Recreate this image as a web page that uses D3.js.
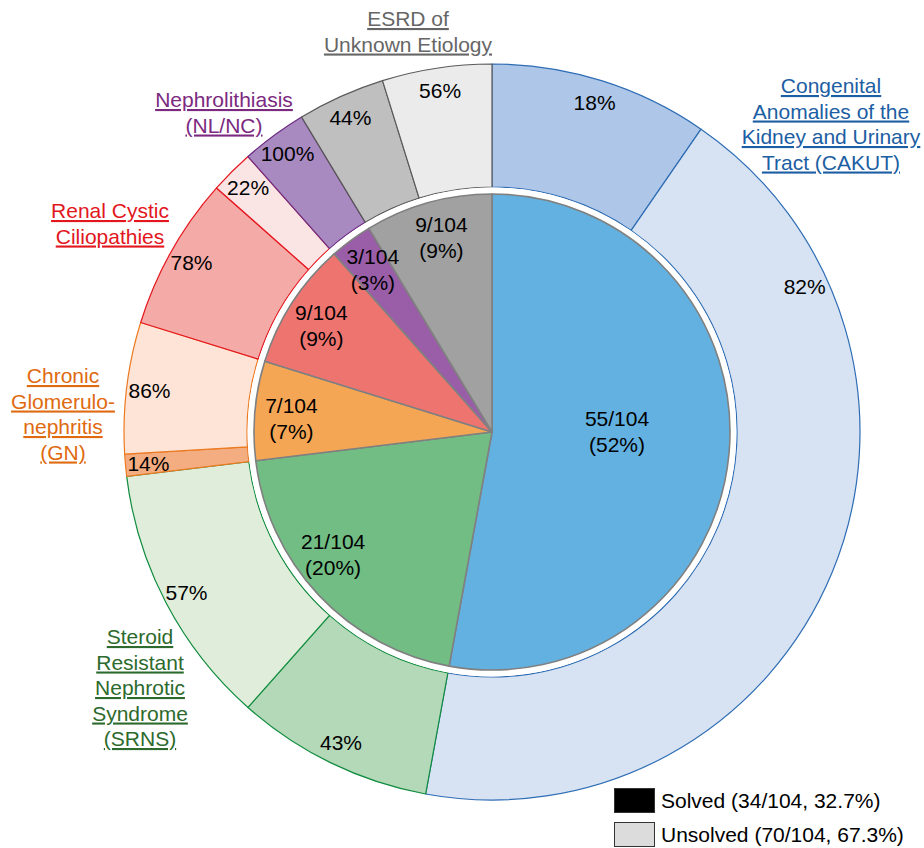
<!DOCTYPE html>
<html>
<head>
<meta charset="utf-8">
<script src="https://cdn.jsdelivr.net/npm/d3@7"></script>
<style>
  body { margin: 0; background: #fff; }
  svg text { font-family: "Liberation Sans", Arial, Helvetica, sans-serif; font-size: 21px; }
</style>
</head>
<body>
<div class="chart"></div>
<script>
// data
var categories = ["CAKUT", "SRNS", "GN", "Renal Cystic", "NL/NC", "ESRD"];
var titles = [
  ["Congenital", "Anomalies of the", "Kidney and Urinary", "Tract (CAKUT)"],
  ["Steroid", "Resistant", "Nephrotic", "Syndrome", "(SRNS)"],
  ["Chronic", "Glomerulo-", "nephritis", "(GN)"],
  ["Renal Cystic", "Ciliopathies"],
  ["Nephrolithiasis", "(NL/NC)"],
  ["ESRD of", "Unknown Etiology"]
];
var solved = [10, 9, 1, 7, 3, 4];
var unsolved = [45, 12, 6, 2, 0, 5];
var total = 104;
// share of all patients, as printed in the figure
var innerPct = [52, 20, 7, 9, 3, 9];
var legendLabels = ["Solved (34/104, 32.7%)", "Unsolved (70/104, 67.3%)"];

// styles
var innerColors = ["#63b1e0", "#71bd84", "#f5a655", "#ee7470", "#9a5ea8", "#a1a1a1"];
var solvedColors = ["#aec6e8", "#b4d9b8", "#f4ad80", "#f4aaa6", "#a98ac0", "#bfbfbf"];
var unsolvedColors = ["#d7e3f3", "#e0edda", "#fde4d6", "#fbe5e4", "#ffffff", "#ebebeb"];
var strokeColors = ["#2e6db4", "#108c3e", "#ec7a22", "#e5161e", "#6c2b82", "#5a5a5a"];
var titleColors = ["#1c5ea3", "#2d6a2d", "#e06a10", "#e3161e", "#7b2a80", "#666666"];
// title anchor (center x, first baseline)
var titlePos = [[831, 93], [140, 644], [63, 383], [110, 218], [224, 107], [408, 26]];
// small angle nudges (degrees) for the inner labels
var innerNudge = [0, 5.5, -1.5, -1, 0, 1];

var width = 924, height = 848;
var cx = 492, cy = 432;
var rPie = 238, rIn = 245, rOut = 368;
var lineH = 25.5;

var svg = d3.select('.chart').append('svg')
  .attr('width', width)
  .attr('height', height);

var g = svg.append('g').attr('transform', 'translate(' + cx + ',' + cy + ')');

// outer ring
var outerData = [];
categories.forEach(function(c, i){
  var n = solved[i] + unsolved[i];
  outerData.push({cat: i, kind: 'solved', value: solved[i], n: n});
  outerData.push({cat: i, kind: 'unsolved', value: unsolved[i], n: n});
});

var pie = d3.pie().sort(null).value(function(d){ return d.value; });
var outerArcs = pie(outerData).filter(function(d){ return d.data.value > 0; });

var outerArc = d3.arc().innerRadius(rIn).outerRadius(rOut);

g.selectAll('path.outer')
  .data(outerArcs)
  .enter().append('path')
  .attr('class', 'outer')
  .attr('d', outerArc)
  .attr('fill', function(d){ return d.data.kind == 'solved' ? solvedColors[d.data.cat] : unsolvedColors[d.data.cat]; })
  .attr('stroke', function(d){ return strokeColors[d.data.cat]; })
  .attr('stroke-width', 1.2)
  .attr('stroke-linejoin', 'round');

// outer percentages
g.selectAll('text.pct')
  .data(outerArcs)
  .enter().append('text')
  .attr('class', 'pct')
  .attr('text-anchor', 'middle')
  .attr('dy', '0.35em')
  .attr('transform', function(d){
    var frac = (d.data.cat == 0 && d.data.kind == 'unsolved') ? 0.195 : 0.5;
    var a = d.startAngle + (d.endAngle - d.startAngle) * frac;
    var r = 345;
    return 'translate(' + (r * Math.sin(a)) + ',' + (-r * Math.cos(a)) + ')';
  })
  .text(function(d){ return Math.round(d.data.value / d.data.n * 100) + '%'; });

// white gap + inner pie
g.append('circle').attr('r', rIn - 0.6).attr('fill', '#fff');

var innerData = categories.map(function(c, i){ return {cat: i, value: solved[i] + unsolved[i]}; });
var innerArcs = pie(innerData);
var innerArc = d3.arc().innerRadius(0).outerRadius(rPie);

g.selectAll('path.inner')
  .data(innerArcs)
  .enter().append('path')
  .attr('class', 'inner')
  .attr('d', innerArc)
  .attr('fill', function(d){ return innerColors[d.data.cat]; })
  .attr('stroke', '#808080')
  .attr('stroke-width', 1.6)
  .attr('stroke-linejoin', 'round');

var inLabels = g.selectAll('text.inner')
  .data(innerArcs)
  .enter().append('text')
  .attr('class', 'inner')
  .attr('text-anchor', 'middle')
  .attr('transform', function(d){
    var big = (d.endAngle - d.startAngle) > Math.PI;
    var a = big ? Math.PI / 2 : (d.startAngle + d.endAngle) / 2 + innerNudge[d.data.cat] * Math.PI / 180;
    var r = big ? 125 : 201;
    return 'translate(' + (r * Math.sin(a)) + ',' + (-r * Math.cos(a)) + ')';
  });

inLabels.append('tspan')
  .attr('x', 0).attr('y', -13).attr('dy', '0.35em')
  .text(function(d){ return d.data.value + '/' + total; });
inLabels.append('tspan')
  .attr('x', 0).attr('y', 13).attr('dy', '0.35em')
  .text(function(d){ return '(' + innerPct[d.data.cat] + '%)'; });

// category titles
categories.forEach(function(c, i){
  var t = svg.append('text')
    .attr('text-anchor', 'middle')
    .attr('fill', titleColors[i])
    .style('text-decoration', 'underline');
  titles[i].forEach(function(line, j){
    t.append('tspan')
      .attr('x', titlePos[i][0])
      .attr('y', titlePos[i][1] + j * lineH)
      .text(line);
  });
});

// legend
var legend = svg.append('g').attr('transform', 'translate(614,788)');
var legendFill = ['#000000', '#dcdcdc'];
legendLabels.forEach(function(l, i){
  legend.append('rect')
    .attr('x', 0.5)
    .attr('y', i * 34 + 0.5)
    .attr('width', 40)
    .attr('height', 24)
    .attr('fill', legendFill[i])
    .attr('stroke', '#333')
    .attr('stroke-width', 1);
  legend.append('text')
    .attr('x', 47)
    .attr('y', i * 34 + 20)
    .text(l);
});
</script>
</body>
</html>
